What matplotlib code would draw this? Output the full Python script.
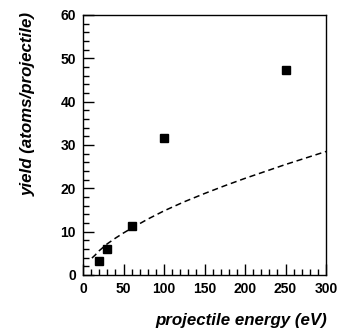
import matplotlib
matplotlib.use("Agg")
from matplotlib import pyplot as plt
from matplotlib.ticker import MultipleLocator

# measured yield
energia = [20, 30, 60, 100, 250]
rendimento = [3.3, 6.1, 11.4, 31.7, 47.2]

# dashed curve
curva_x = [11, 15, 20, 25, 30, 40, 50, 60, 80, 100, 125, 150, 175, 200, 225, 250, 275, 300]
curva_y = [3.9, 4.6, 5.6, 6.4, 7.2, 8.5, 9.7, 10.8, 12.9, 14.8, 16.9, 18.8, 20.6, 22.3, 23.9, 25.5, 27.0, 28.5]

plt.rcParams['font.family'] = ['Liberation Sans', 'DejaVu Sans']

fig = plt.figure(figsize=(3.39, 3.35), dpi=100)
ax = fig.add_axes([83/339, 60/335, 243/339, 260/335])

ax.plot(curva_x, curva_y, color="black", linestyle=(0, (4, 2.5)), linewidth=1.1)
ax.plot(energia, rendimento, linestyle="none", marker="s", markersize=5.5, color="black")

ax.set_xlim(0, 300)
ax.set_ylim(0, 60)
ax.xaxis.set_major_locator(MultipleLocator(50))
ax.xaxis.set_minor_locator(MultipleLocator(10))
ax.yaxis.set_major_locator(MultipleLocator(10))
ax.yaxis.set_minor_locator(MultipleLocator(2))
ax.tick_params(which="both", direction="in", top=False, right=False, width=1.0)
ax.tick_params(which="major", length=8, pad=5, labelsize=10)
ax.tick_params(which="minor", length=4)
for lbl in ax.get_xticklabels() + ax.get_yticklabels():
    lbl.set_fontweight("bold")
for s in ax.spines.values():
    s.set_linewidth(1.0)

fig.text(28/339, 1 - 104/335, "yield (atoms/projectile)", rotation=90, ha="center", va="center",
         fontsize=12.2, fontweight="bold", fontstyle="italic")
fig.text(327/339, 1 - 320/335, "projectile energy (eV)", ha="right", va="center",
         fontsize=12.2, fontweight="bold", fontstyle="italic")

fig.savefig("out.png", dpi=100)
